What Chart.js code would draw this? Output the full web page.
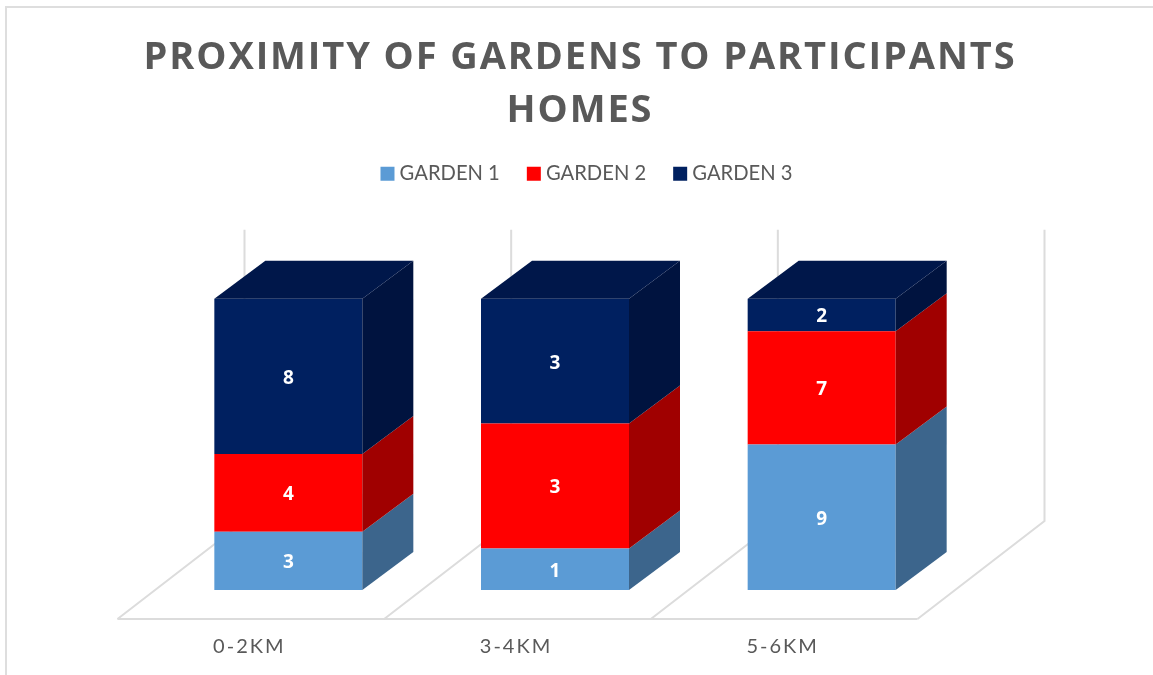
<!DOCTYPE html>
<html lang="en">
<head>
  <meta charset="UTF-8">
  <title>Proximity of gardens to participants homes</title>
  <script src="https://cdn.jsdelivr.net/npm/chart.js"></script>
  <style>
    html, body { margin: 0; padding: 0; background: #fff; overflow: hidden; }
    #frame { position: absolute; left: 5px; top: 6px; right: 0; bottom: 0; border-top: 2px solid #dedede; border-left: 2px solid #dedede; }
    canvas { position: absolute; left: 0; top: 0; }
  </style>
</head>
<body>
  <div id="frame"></div>
  <canvas id="gardenChart" width="1153" height="675"></canvas>

  <script>
    const distances = ["0-2KM", "3-4KM", "5-6KM"];
    const seriesNames = ["GARDEN 1", "GARDEN 2", "GARDEN 3"];
    const garden1 = [3, 1, 9];
    const garden2 = [4, 3, 7];
    const garden3 = [8, 3, 2];

    const frontColors = ["#5b9bd5", "#ff0000", "#002060"];
    const sideColors = ["#3c658c", "#a00000", "#00133f"];
    const topColor = "#00174a";
    const gridColor = "#dcdcdc";
    const textColor = "#595959";

    // bars are 100% stacked, so each count becomes a share of its group
    const counts = [garden1, garden2, garden3];
    const totals = distances.map((_, i) => garden1[i] + garden2[i] + garden3[i]);

    // depth of the fake 3D box, in pixels
    const barDepth = { x: 51, y: 38 };
    const floorFront = { x: -37.5, y: 29 };
    const floorBack = { x: 89.5, y: -69 };

    function poly(ctx, color, pts) {
      ctx.fillStyle = color;
      ctx.beginPath();
      pts.forEach((p, i) => i ? ctx.lineTo(p[0], p[1]) : ctx.moveTo(p[0], p[1]));
      ctx.closePath();
      ctx.fill();
    }

    // floor outline and back wall lines, behind the bars
    const wallsAndFloor = {
      id: "wallsAndFloor",
      beforeDatasetsDraw(chart) {
        const { ctx, scales: { x, y } } = chart;
        const step = x.getPixelForValue(1) - x.getPixelForValue(0);
        const left = x.getPixelForValue(0) - step / 2;
        const base = y.getPixelForValue(0);
        const top = y.getPixelForValue(1);
        const frontY = base + floorFront.y;
        const backY = base + floorBack.y;
        ctx.save();
        ctx.strokeStyle = gridColor;
        ctx.lineWidth = 2;
        ctx.beginPath();
        ctx.moveTo(left + floorFront.x, frontY);
        ctx.lineTo(left + floorFront.x + step * distances.length, frontY);
        ctx.stroke();
        for (let i = 0; i <= distances.length; i++) {
          const gx = left + step * i;
          ctx.beginPath();
          ctx.moveTo(gx + floorFront.x, frontY);
          ctx.lineTo(gx + floorBack.x, backY);
          ctx.lineTo(gx + floorBack.x, top + floorBack.y);
          ctx.stroke();
        }
        ctx.restore();
      }
    };

    // right side and top of every bar, then the count labels
    const barFaces = {
      id: "barFaces",
      afterDatasetsDraw(chart) {
        const { ctx } = chart;
        const dx = barDepth.x, dy = barDepth.y;
        ctx.save();
        chart.data.datasets.forEach((ds, d) => {
          chart.getDatasetMeta(d).data.forEach((bar) => {
            const r = bar.x + bar.width / 2;
            const l = bar.x - bar.width / 2;
            poly(ctx, sideColors[d], [[r, bar.y], [r + dx, bar.y - dy], [r + dx, bar.base - dy], [r, bar.base]]);
            if (d === chart.data.datasets.length - 1) {
              poly(ctx, topColor, [[l, bar.y], [l + dx, bar.y - dy], [r + dx, bar.y - dy], [r, bar.y]]);
            }
          });
        });
        ctx.fillStyle = "#fff";
        ctx.font = "bold 19px 'Open Sans'";
        ctx.textAlign = "center";
        ctx.textBaseline = "middle";
        chart.data.datasets.forEach((ds, d) => {
          chart.getDatasetMeta(d).data.forEach((bar, i) => {
            ctx.fillText(counts[d][i], bar.x, (bar.y + bar.base) / 2 + 2);
          });
        });
        ctx.restore();
      }
    };

    // canvas letter spacing for the title and the tick labels,
    // and re-centre the title and legend over the whole picture
    const textLayout = {
      id: "textLayout",
      beforeLayout(chart) {
        if (chart.$spaced) return;
        chart.$spaced = true;
        const spaced = (box, px) => {
          const draw = box.draw;
          box.draw = function (area) {
            chart.ctx.letterSpacing = px;
            draw.call(box, area);
            chart.ctx.letterSpacing = "0px";
          };
        };
        spaced(chart.titleBlock, "1.9px");
        spaced(chart.scales.x, "2px");
      },
      afterLayout(chart) {
        chart.titleBlock.left = 0;
        chart.titleBlock.right = 1160;
        chart.legend.left = 0;
        chart.legend.right = 1178;
        chart.legend.top -= 6;
      }
    };

    const ctx = document.getElementById("gardenChart").getContext("2d");
    new Chart(ctx, {
      type: "bar",
      data: {
        labels: distances,
        datasets: seriesNames.map((name, d) => ({
          label: name,
          data: counts[d].map((v, i) => v / totals[i]),
          backgroundColor: frontColors[d],
          borderWidth: 0,
          categoryPercentage: 0.555,
          barPercentage: 1
        }))
      },
      options: {
        responsive: false,
        animation: false,
        layout: { padding: { left: 155, right: 198, top: 0, bottom: 0 } },
        plugins: {
          title: {
            display: true,
            text: ["PROXIMITY OF GARDENS TO PARTICIPANTS", "HOMES"],
            color: textColor,
            font: { family: "'Open Sans'", size: 38, weight: "bold", lineHeight: 1.39 },
            padding: { top: 32, bottom: 0 }
          },
          legend: {
            position: "top",
            labels: {
              color: textColor,
              font: { family: "Lato", size: 20.2 },
              usePointStyle: true,
              pointStyle: "rect",
              boxWidth: 4,
              boxHeight: 14,
              padding: 32
            }
          },
          tooltip: { enabled: false }
        },
        scales: {
          x: {
            stacked: true,
            grid: { display: false, drawTicks: false },
            border: { display: false },
            afterFit(scale) { scale.height = 85; },
            ticks: {
              color: textColor,
              font: { family: "Lato", size: 20 },
              padding: 45,
              labelOffset: -39,
              maxRotation: 0
            }
          },
          y: { stacked: true, display: false, min: 0, max: 1.34 }
        }
      },
      plugins: [textLayout, wallsAndFloor, barFaces]
    });
  </script>
</body>
</html>
